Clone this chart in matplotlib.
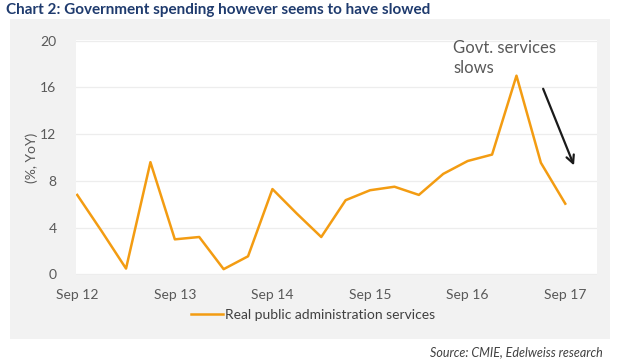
import matplotlib
matplotlib.use("Agg")
import matplotlib.pyplot as plt

plt.rcParams['font.family'] = ['Lato', 'DejaVu Sans']

# Data (quarterly, Sep 12 .. Sep 17)
quarters = ["Sep 12", "Dec 12", "Mar 13", "Jun 13", "Sep 13", "Dec 13", "Mar 14",
            "Jun 14", "Sep 14", "Dec 14", "Mar 15", "Jun 15", "Sep 15", "Dec 15",
            "Mar 16", "Jun 16", "Sep 16", "Dec 16", "Mar 17", "Jun 17", "Sep 17"]
values = [6.8, 3.7, 0.5, 9.6, 3.0, 3.2, 0.45, 1.55, 7.3, 5.2, 3.2, 6.35, 7.2, 7.5,
          6.8, 8.6, 9.7, 10.25, 17.0, 9.55, 6.05]
tick_labels = ["Sep 12", "Sep 13", "Sep 14", "Sep 15", "Sep 16", "Sep 17"]
yticks = [0, 4, 8, 12, 16, 20]
series_name = "Real public administration services"

W, H = 643, 364
fig = plt.figure(figsize=(W / 100, H / 100), dpi=100)
fig.patch.set_facecolor("white")

# gray panel
bg = fig.add_axes([10 / W, 1 - 339 / H, 600 / W, 320 / H], zorder=-5)
bg.set_facecolor("#F2F2F2")
bg.set_xticks([])
bg.set_yticks([])
for s in bg.spines.values():
    s.set_visible(False)

ax = fig.add_axes([76 / W, 1 - 275 / H, (597 - 76) / W, (275 - 40) / H], zorder=1)
ax.set_facecolor("white")
x = list(range(len(values)))
ax.plot(x, values, color="#F39C12", lw=1.8, label=series_name, zorder=3)

ax.set_xlim(-0.05, 21.3)
ax.set_ylim(-0.05, 20.05)
ax.set_yticks(yticks)
ax.set_yticklabels([str(v) for v in yticks])
tick_pos = [quarters.index(t) for t in tick_labels]
ax.set_xticks(tick_pos)
ax.set_xticklabels(tick_labels)
ax.tick_params(axis="both", length=0, labelsize=10, colors="#595959")
ax.tick_params(axis="y", pad=14)
ax.tick_params(axis="x", pad=10)
for s in ax.spines.values():
    s.set_visible(False)
ax.grid(axis="y", color="#EDEDED", lw=0.9)
ax.set_axisbelow(True)
ax.set_ylabel("(%, YoY)", color="#595959", fontsize=10, labelpad=2)

ax.annotate("", xy=(20.4, 9.1), xytext=(19.05, 16.1),
            arrowprops=dict(arrowstyle="->", color="#1a1a1a", lw=1.6,
                            mutation_scale=14))
ax.text(15.4, 20.05, "Govt. services\nslows", fontsize=12, color="#595959",
        va="top", ha="left", linespacing=1.3, clip_on=False)

leg = fig.legend(loc="center", bbox_to_anchor=(313 / W, 1 - 315 / H), frameon=False,
                 fontsize=10, handlelength=2.3, handletextpad=0.2, labelcolor="#404040")

fig.text(6 / W, 1 - 10 / H, "Chart 2: Government spending however seems to have slowed",
         fontsize=11, fontweight="bold", color="#1F3B6E", ha="left", va="center")
fig.text(603 / W, 1 - 352 / H, "Source: CMIE, Edelweiss research", fontsize=9,
         style="italic", color="#404040", ha="right", va="center")

fig.savefig("out.png", dpi=100, facecolor="white")
